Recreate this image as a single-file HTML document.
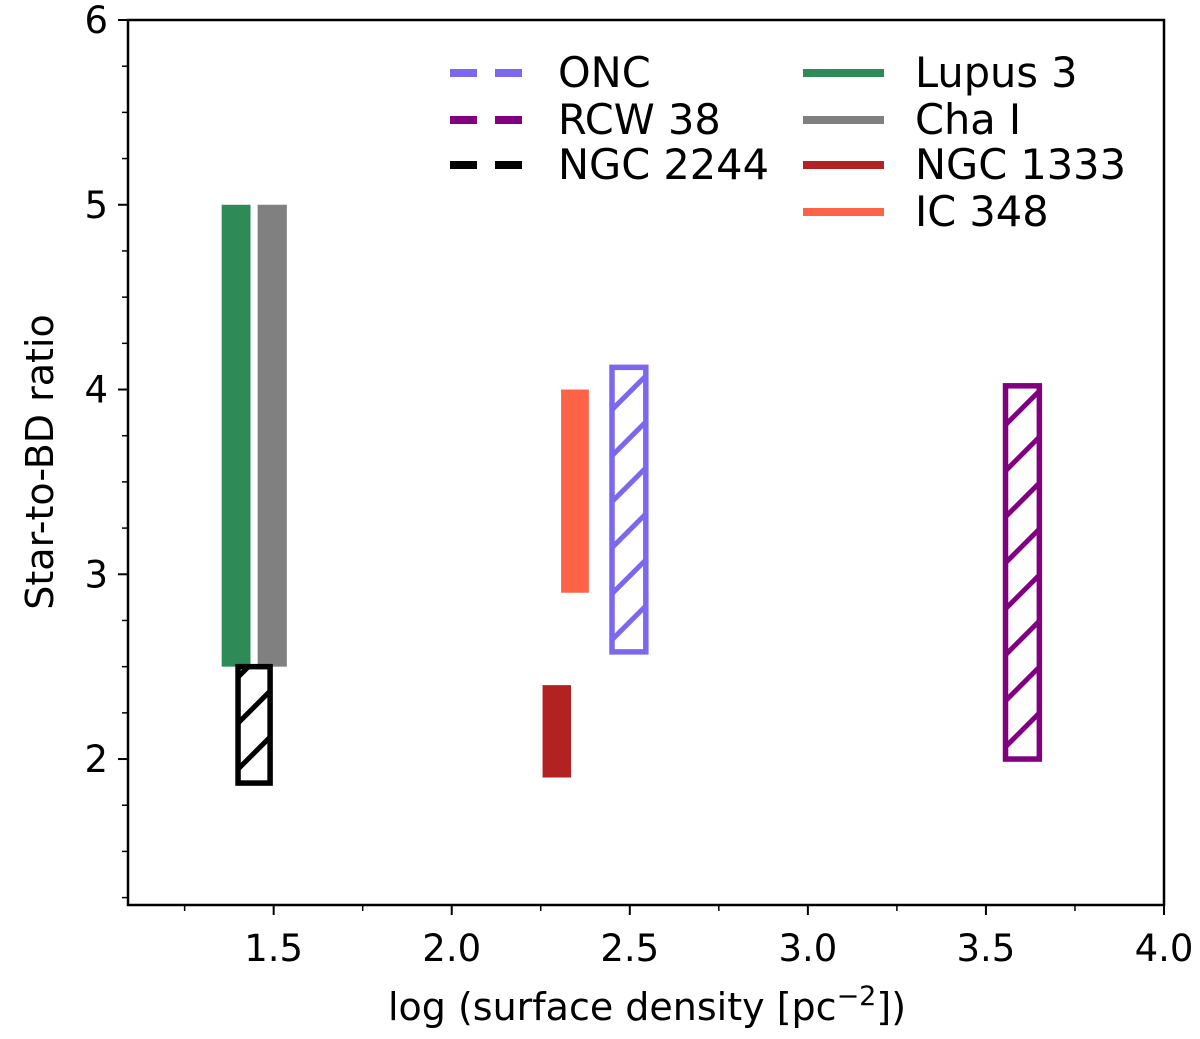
<!DOCTYPE html>
<html><head><meta charset="utf-8"><style>
html,body{margin:0;padding:0;background:#fff;}
svg{display:block;font-family:"DejaVu Sans","Liberation Sans",sans-serif;}
</style></head><body>
<svg id="chart" width="1200" height="1039">
<g id="plot"></g>
</svg>
<script>
const names=["Lupus 3","Cha I","NGC 2244","NGC 1333","IC 348","ONC","RCW 38"];
const xLo=[1.354,1.455,1.40,2.255,2.307,2.45,3.555];
const xHi=[1.435,1.537,1.49,2.335,2.385,2.545,3.65];
const yLo=[2.5,2.5,1.87,1.9,2.9,2.58,2.0];
const yHi=[5.0,5.0,2.5,2.4,4.0,4.12,4.02];
const colors=["#2e8b57","#808080","#000000","#b22222","#ff6347","#7b68ee","#800080"];
const hatched=[false,false,true,false,false,true,true];
const xTicks=[1.5,2.0,2.5,3.0,3.5,4.0];
const xTickLabels=["1.5","2.0","2.5","3.0","3.5","4.0"];
const yTicks=[2,3,4,5,6];
const yTickLabels=["2","3","4","5","6"];

const L=128,R=1164,T=20,B=905;
const xmin=1.091,xmax=4.0,ymin=1.21,ymax=6.0;
const X=v=>L+(v-xmin)/(xmax-xmin)*(R-L);
const Y=v=>B-(v-ymin)/(ymax-ymin)*(B-T);
const NS="http://www.w3.org/2000/svg";
const g=document.getElementById('plot');
function mk(t,a,p){const e=document.createElementNS(NS,t);for(const k in a)e.setAttribute(k,a[k]);(p||g).appendChild(e);return e;}

names.forEach((n,i)=>{
  const x0=X(xLo[i]),x1=X(xHi[i]),y0=Y(yHi[i]),y1=Y(yLo[i]);
  const grp=mk('g',{});
  
  
  if(!hatched[i]){
    mk('rect',{x:x0,y:y0,width:x1-x0,height:y1-y0,fill:colors[i]},grp);
  } else {
    const cid='c'+i;
    const cp=mk('clipPath',{id:cid},grp);
    mk('rect',{x:x0,y:y0,width:x1-x0,height:y1-y0},cp);
    const hg=mk('g',{'clip-path':'url(#'+cid+')'},grp);
    const step=46;
    for(let c=y1+(x1-x0); c>y0-step; c-=step){
      mk('line',{x1:x0,y1:c,x2:x1,y2:c-(x1-x0),stroke:colors[i],'stroke-width':5},hg);
    }
    mk('rect',{x:x0,y:y0,width:x1-x0,height:y1-y0,fill:'none',stroke:colors[i],'stroke-width':5.5},grp);
  }
});

const ax=mk('rect',{x:L,y:T,width:R-L,height:B-T,fill:'none',stroke:'#000','stroke-width':2.5});

xTicks.forEach((v,i)=>{
  mk('line',{x1:X(v),y1:B,x2:X(v),y2:B+10,stroke:'#000','stroke-width':2});
  const t=mk('text',{x:X(v),y:B+56,'font-size':37,'text-anchor':'middle'});t.textContent=xTickLabels[i];
  
});
for(let v=1.25;v<=4.0;v+=0.25){ if(Math.abs(v*2-Math.round(v*2))>1e-6) mk('line',{x1:X(v),y1:B,x2:X(v),y2:B+6,stroke:'#000','stroke-width':1.5}); }
yTicks.forEach((v,i)=>{
  mk('line',{x1:L,y1:Y(v),x2:L-10,y2:Y(v),stroke:'#000','stroke-width':2});
  const t=mk('text',{x:L-20,y:Y(v)+13,'font-size':37,'text-anchor':'end'});t.textContent=yTickLabels[i];
  
});
for(let v=1.25;v<6;v+=0.25){ if(Math.abs(v-Math.round(v))>1e-6) mk('line',{x1:L,y1:Y(v),x2:L-6,y2:Y(v),stroke:'#000','stroke-width':1.5}); }

const xt=mk('text',{x:647,y:1020,'font-size':38,'text-anchor':'middle'});
xt.innerHTML='log (surface density [pc<tspan dy="-15" font-size="27">−2</tspan><tspan dy="15">])</tspan>';

const yt=mk('text',{x:0,y:0,'font-size':38,'text-anchor':'middle',transform:'translate(53,462) rotate(-90)'});
yt.textContent='Star-to-BD ratio';


const legL=[["ONC",5,73],["RCW 38",6,120],["NGC 2244",2,165]];
legL.forEach(([n,ci,y])=>{
  const lg=mk('g',{});
  mk('line',{x1:450,y1:y,x2:522,y2:y,stroke:colors[ci],'stroke-width':8,'stroke-dasharray':'27 18'},lg);
  const t=mk('text',{x:558,y:y+14,'font-size':41.5},lg);t.textContent=n;
});
const legR=[["Lupus 3",0,73],["Cha I",1,120],["NGC 1333",3,165],["IC 348",4,212]];
legR.forEach(([n,ci,y])=>{
  const lg=mk('g',{});
  mk('line',{x1:803,y1:y,x2:884,y2:y,stroke:colors[ci],'stroke-width':8},lg);
  const t=mk('text',{x:915,y:y+14,'font-size':41.5},lg);t.textContent=n;
});
</script>
</body></html>
